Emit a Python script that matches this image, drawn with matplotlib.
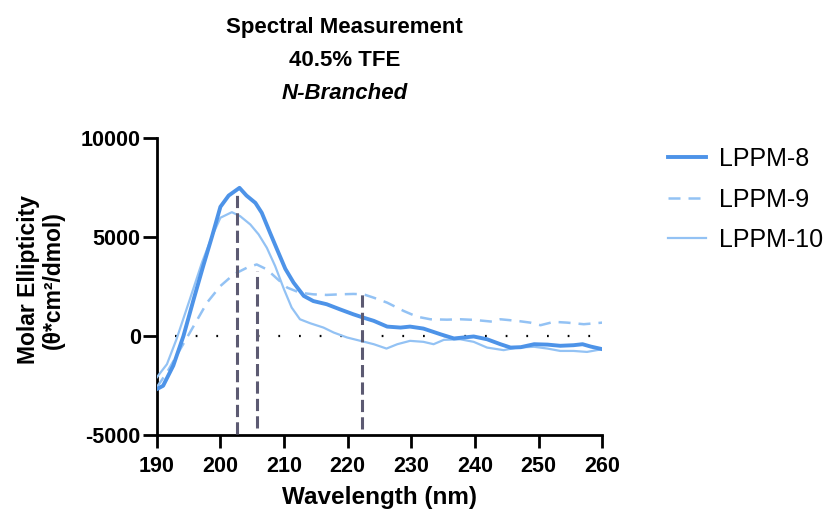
import numpy as np
import matplotlib.pyplot as plt

plt.rcParams['font.family'] = ['Liberation Sans', 'DejaVu Sans']
plt.rcParams['axes.unicode_minus'] = False

# LPPM-8 (thick solid)
wl_8 = [190, 191, 192.6, 194.2, 195.8, 197.3, 198.7, 200, 201.3, 203, 204.1, 205.5, 206.5,
        207.8, 208.9, 210.2, 211.5, 213.1, 214.6, 216.7, 218.8, 220.9, 222.5, 224.1, 226.2,
        228.3, 229.8, 231.9, 234.6, 236.7, 238.2, 239.8, 241.9, 244, 245.6, 247.2, 249.3,
        251.4, 253.4, 255.5, 256.9, 258.2, 260]
me_8 = [-2690, -2520, -1500, 0, 1850, 3530, 5040, 6520, 7090, 7480, 7090, 6720, 6220,
        5210, 4370, 3390, 2690, 2020, 1760, 1600, 1340, 1090, 920, 760, 470,
        420, 470, 370, 80, -130, -80, -30, -170, -420, -590, -570, -420,
        -440, -500, -470, -420, -540, -670]

# LPPM-9 (dashed)
wl_9 = [190, 191.6, 193.7, 195.8, 197.9, 200, 202.1, 204.2, 205.7, 207.3, 208.9, 210.5,
        212.5, 214.6, 216.7, 218.8, 220.9, 222.5, 224.1, 226.2, 228.8, 230.9, 233, 235.6,
        237.7, 239.8, 242.7, 244, 246.6, 248.7, 250.3, 252.4, 254.5, 257.1, 260]
me_9 = [-2600, -1850, -670, 500, 1680, 2520, 3110, 3450, 3610, 3360, 2890, 2440,
        2180, 2100, 2070, 2100, 2120, 2100, 1930, 1680, 1260, 970, 840, 820,
        840, 810, 720, 840, 760, 670, 540, 710, 670, 590, 670]

# LPPM-10 (thin solid)
wl_10 = [190, 191.6, 193.1, 195.2, 197.1, 198.7, 200, 201.8, 203.1, 204.7, 206, 207.3,
         208.6, 210, 211.2, 212.5, 214.1, 216.2, 217.8, 219.9, 222, 224.1, 226.1, 227.8,
         229.8, 231.9, 233.5, 235.1, 237.7, 239.8, 241.9, 244.5, 246.6, 249.3, 251.4,
         253.4, 255.5, 257.6, 260]
me_10 = [-2100, -1430, -170, 1850, 3700, 5040, 5970, 6250, 6050, 5630, 5130, 4450,
         3530, 2350, 1430, 840, 640, 420, 170, -80, -250, -420, -640, -420,
         -250, -300, -420, -200, -170, -300, -590, -720, -590, -550, -640,
         -760, -760, -810, -670]

# vertical reference markers: (wavelength, top value, bottom value)
marker_wl = [202.6, 205.7, 222.3]
marker_top = [7240, 3300, 2180]
marker_bottom = [-4950, -4650, -4700]

fig = plt.figure(figsize=(8.25, 5.11), dpi=100)
ax = fig.add_axes([0.19, 0.149, 0.54, 0.581])

c_dark = '#4d93e8'
c_light = '#93c2f4'

ax.plot(wl_8, me_8, color=c_dark, lw=2.8, label='LPPM-8', zorder=4)
ax.plot(wl_9, me_9, color=c_light, lw=1.8, ls=(0, (4.8, 3.2)), label='LPPM-9', zorder=3)
ax.plot(wl_10, me_10, color=c_light, lw=1.6, label='LPPM-10', zorder=3)

ax.plot([192.8, 258.5], [0, 0], color='black', lw=1.6, ls=(0, (0.8, 8.5)), zorder=2)
for x, t, b in zip(marker_wl, marker_top, marker_bottom):
    ax.plot([x, x], [b, t], color='#5c5a72', lw=2.2, ls=(0, (4, 1.7)), zorder=5)

ax.set_xlim(190, 260)
ax.set_ylim(-5000, 10000)
ax.set_xticks(np.arange(190, 261, 10))
ax.set_yticks([-5000, 0, 5000, 10000])
for s in ['top', 'right']:
    ax.spines[s].set_visible(False)
for s in ['left', 'bottom']:
    ax.spines[s].set_linewidth(2)
ax.tick_params(axis='x', width=2, length=9.5, pad=5.5, labelsize=15.5)
ax.tick_params(axis='y', width=2, length=10, pad=1.5, labelsize=15.5)
for lbl in ax.get_xticklabels() + ax.get_yticklabels():
    lbl.set_fontweight('bold')

fig.text(380 / 825, 7 / 511, 'Wavelength (nm)', ha='center', va='baseline', fontsize=17.5, fontweight='bold')
fig.text(41 / 825, 1 - 280 / 511, 'Molar Ellipticity\n(θ*cm²/dmol)', ha='center', va='center',
         rotation=90, multialignment='center', fontsize=16.5, fontweight='bold', linespacing=1.1)

fig.text(0.418, 1 - 33 / 511, 'Spectral Measurement', ha='center', va='baseline', fontsize=16, fontweight='bold')
fig.text(0.418, 1 - 66 / 511, '40.5% TFE', ha='center', va='baseline', fontsize=16, fontweight='bold')
fig.text(0.418, 1 - 99 / 511, 'N-Branched', ha='center', va='baseline', fontsize=16, fontweight='bold', style='italic')

leg = fig.legend(loc='upper left', bbox_to_anchor=(668 / 825, 1 - 147 / 511), frameon=False, fontsize=18,
                 handlelength=1.5, handletextpad=0.55, labelspacing=0.66, borderpad=0, borderaxespad=0)

fig.savefig('out.png', dpi=100)
